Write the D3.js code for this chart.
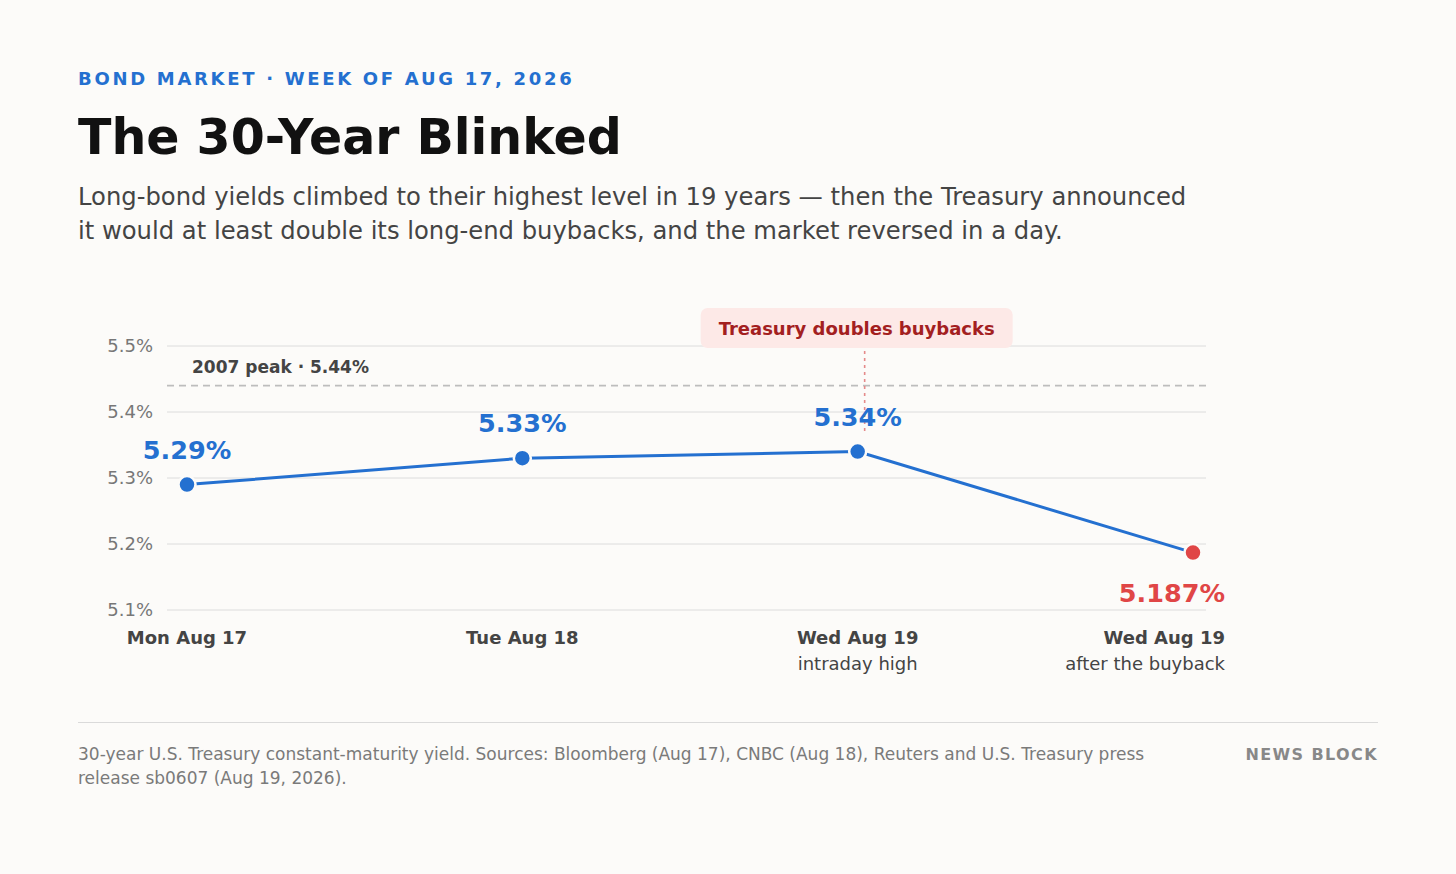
<!DOCTYPE html>
<html>
<head>
<meta charset="utf-8">
<script src="https://cdn.jsdelivr.net/npm/d3@7"></script>
<style>
  html, body { margin: 0; padding: 0; background: #fcfbf9; }
  svg { display: block; font-family: "DejaVu Sans", sans-serif; }
</style>
</head>
<body>
<svg id="chart" width="1456" height="874"></svg>
<script>
// ---- data ----
const categories = ["Mon Aug 17", "Tue Aug 18", "Wed Aug 19", "Wed Aug 19"];
const subLabels = ["", "", "intraday high", "after the buyback"];
const yields = [5.29, 5.33, 5.34, 5.187];
const valueLabels = ["5.29%", "5.33%", "5.34%", "5.187%"];
const yTicks = [5.1, 5.2, 5.3, 5.4, 5.5];
const peakValue = 5.44;
const peakLabel = "2007 peak · 5.44%";
const eventLabel = "Treasury doubles buybacks";
const eventIndex = 2;

const blue = "#2470d0", red = "#e04646";

const svg = d3.select("#chart");
svg.append("rect").attr("width", 1456).attr("height", 874).attr("fill", "#fcfbf9");

// header
svg.append("text").attr("x", 78).attr("y", 85)
  .attr("font-size", 18).attr("font-weight", "bold").attr("fill", blue)
  .attr("letter-spacing", 2.7)
  .text("BOND MARKET · WEEK OF AUG 17, 2026");
svg.append("text").attr("x", 78).attr("y", 154)
  .attr("font-size", 49).attr("font-weight", "bold").attr("fill", "#111")
  .text("The 30-Year Blinked");
const sub = svg.append("text").attr("font-size", 24.25).attr("fill", "#444");
sub.append("tspan").attr("x", 78).attr("y", 205)
  .text("Long-bond yields climbed to their highest level in 19 years — then the Treasury announced");
sub.append("tspan").attr("x", 78).attr("y", 239)
  .text("it would at least double its long-end buybacks, and the market reversed in a day.");

// scales
const x = d3.scalePoint().domain(d3.range(categories.length)).range([187, 1193]);
const y = d3.scaleLinear().domain([5.1, 5.5]).range([610, 346]);
const gridL = 167, gridR = 1206;

// gridlines + y axis
const yAxis = d3.axisLeft(y).tickValues(yTicks).tickSize(0).tickPadding(14)
  .tickFormat(d => d3.format(".1f")(d) + "%");
const gy = svg.append("g").attr("transform", `translate(${gridL},0)`).call(yAxis);
gy.select(".domain").remove();
gy.selectAll("text").attr("font-size", 18).attr("fill", "#777")
  .attr("font-family", "DejaVu Sans, sans-serif").attr("dy", "0.32em");
svg.append("g").selectAll("line").data(yTicks).join("line")
  .attr("x1", gridL).attr("x2", gridR)
  .attr("y1", d => y(d)).attr("y2", d => y(d))
  .attr("stroke", "#dcdcdc").attr("stroke-width", 1);

// peak line
svg.append("line").attr("x1", gridL).attr("x2", gridR)
  .attr("y1", y(peakValue)).attr("y2", y(peakValue))
  .attr("stroke", "#bdbdbd").attr("stroke-width", 1.6).attr("stroke-dasharray", "7,5");
svg.append("text").attr("x", 192).attr("y", y(peakValue) - 13)
  .attr("font-size", 17).attr("font-weight", "bold").attr("fill", "#444")
  .text(peakLabel);

// event marker
const ex = x(eventIndex) + 7;
svg.append("line").attr("x1", ex).attr("x2", ex)
  .attr("y1", 351).attr("y2", 433)
  .attr("stroke", "#e58a8a").attr("stroke-width", 1.6).attr("stroke-dasharray", "3,4");
const boxW = 312, boxH = 40, bcx = x(eventIndex) - 1;
svg.append("rect").attr("x", bcx - boxW / 2).attr("y", 308).attr("width", boxW).attr("height", boxH)
  .attr("rx", 7).attr("fill", "#fde9e7");
svg.append("text").attr("x", bcx).attr("y", 335).attr("text-anchor", "middle")
  .attr("font-size", 18).attr("font-weight", "bold").attr("fill", "#a3201f")
  .text(eventLabel);

// line
const line = d3.line().x((d, i) => x(i)).y(d => y(d));
svg.append("path").datum(yields).attr("d", line)
  .attr("fill", "none").attr("stroke", blue).attr("stroke-width", 3);

svg.append("g").selectAll("circle").data(yields).join("circle")
  .attr("cx", (d, i) => x(i)).attr("cy", d => y(d)).attr("r", 8.5)
  .attr("fill", (d, i) => i === yields.length - 1 ? red : blue)
  .attr("stroke", "#fcfbf9").attr("stroke-width", 2.5);

// value labels
const last = yields.length - 1;
svg.append("g").selectAll("text").data(yields).join("text")
  .attr("x", (d, i) => i === last ? x(i) + 32 : x(i))
  .attr("y", (d, i) => i === last ? y(d) + 49 : y(d) - 26)
  .attr("text-anchor", (d, i) => i === last ? "end" : "middle")
  .attr("font-size", 25.5).attr("font-weight", "bold")
  .attr("fill", (d, i) => i === last ? red : blue)
  .text((d, i) => valueLabels[i]);

// x labels
const xl = svg.append("g").selectAll("text").data(categories).join("text")
  .attr("text-anchor", (d, i) => i === last ? "end" : "middle")
  .attr("fill", "#444").attr("font-size", 18);
xl.append("tspan")
  .attr("x", (d, i) => i === last ? x(i) + 32 : x(i)).attr("y", 644)
  .attr("font-weight", "bold").text(d => d);
xl.append("tspan")
  .attr("x", (d, i) => i === last ? x(i) + 32 : x(i)).attr("y", 670)
  .text((d, i) => subLabels[i]);

// footer
svg.append("line").attr("x1", 78).attr("x2", 1378).attr("y1", 722.5).attr("y2", 722.5)
  .attr("stroke", "#dadada").attr("stroke-width", 1);
const ft = svg.append("text").attr("font-size", 17).attr("fill", "#7a7a7a");
ft.append("tspan").attr("x", 78).attr("y", 760)
  .text("30-year U.S. Treasury constant-maturity yield. Sources: Bloomberg (Aug 17), CNBC (Aug 18), Reuters and U.S. Treasury press");
ft.append("tspan").attr("x", 78).attr("y", 784).text("release sb0607 (Aug 19, 2026).");
svg.append("text").attr("x", 1378).attr("y", 760).attr("text-anchor", "end")
  .attr("font-size", 16).attr("font-weight", "bold").attr("fill", "#888").attr("letter-spacing", 1.4)
  .text("NEWS BLOCK");
</script>
</body>
</html>
